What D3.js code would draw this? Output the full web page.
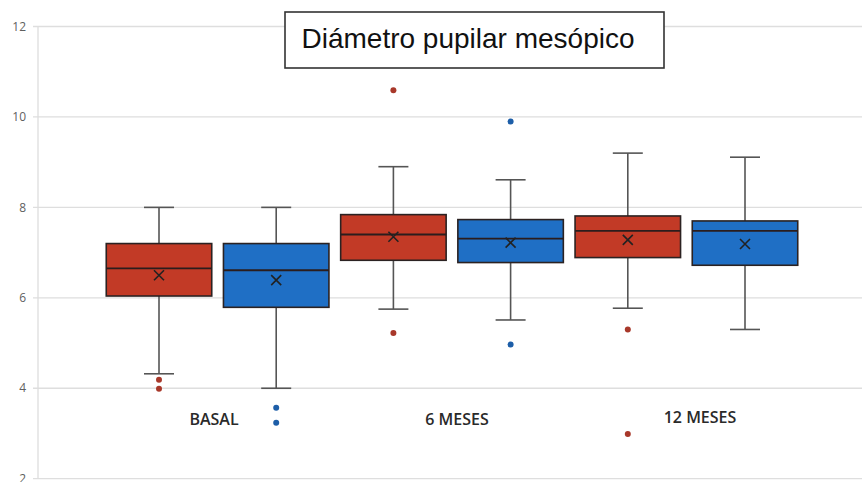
<!DOCTYPE html>
<html>
<head>
<meta charset="utf-8">
<script src="https://cdn.jsdelivr.net/npm/d3@7"></script>
<style>
  html, body { margin: 0; padding: 0; background: #fff; }
  svg { display: block; }
</style>
</head>
<body>
<svg id="chart" width="862" height="482"></svg>
<script>
// ---- data ----
const groups = ["BASAL", "6 MESES", "12 MESES"];
const seriesNames = ["Grupo 1", "Grupo 2"];
const yTicks = [2, 4, 6, 8, 10, 12];
const titleText = "Diámetro pupilar mesópico";

// series 1 (red)
const s1WhiskerHigh = [8.0, 8.9, 9.2];
const s1Q3 = [7.2, 7.84, 7.81];
const s1Median = [6.65, 7.40, 7.48];
const s1Mean = [6.5, 7.35, 7.28];
const s1Q1 = [6.04, 6.83, 6.89];
const s1WhiskerLow = [4.32, 5.75, 5.77];
const s1Outliers = [[4.19, 3.99], [10.59, 5.22], [5.30, 2.99]];

// series 2 (blue)
const s2WhiskerHigh = [8.0, 8.61, 9.11];
const s2Q3 = [7.2, 7.73, 7.70];
const s2Median = [6.61, 7.31, 7.48];
const s2Mean = [6.39, 7.22, 7.19];
const s2Q1 = [5.79, 6.78, 6.72];
const s2WhiskerLow = [4.0, 5.51, 5.30];
const s2Outliers = [[3.57, 3.24], [9.90, 4.97], []];

// ---- build rows ----
const seriesData = [
  { name: seriesNames[0], fill: "#c23a26", dot: "#a8382a",
    hi: s1WhiskerHigh, q3: s1Q3, med: s1Median, mean: s1Mean, q1: s1Q1, lo: s1WhiskerLow, out: s1Outliers },
  { name: seriesNames[1], fill: "#1f6fc5", dot: "#1d5ea8",
    hi: s2WhiskerHigh, q3: s2Q3, med: s2Median, mean: s2Mean, q1: s2Q1, lo: s2WhiskerLow, out: s2Outliers }
];
const boxes = [];
groups.forEach((g, gi) => {
  seriesData.forEach(s => {
    boxes.push({ group: g, series: s.name, fill: s.fill, dot: s.dot,
      hi: s.hi[gi], q3: s.q3[gi], med: s.med[gi], mean: s.mean[gi],
      q1: s.q1[gi], lo: s.lo[gi], out: s.out[gi] });
  });
});

// ---- scales ----
const svg = d3.select("#chart");
const W = 862;
const y = d3.scaleLinear().domain([2, 12]).range([478.7, 26.5]);
const x0 = d3.scaleBand().domain(groups).range([100.4, 803.6]).padding(0);
const x1 = d3.scaleBand().domain(seriesNames).range([0, x0.bandwidth()])
  .paddingInner(0.1).paddingOuter(0.05);
const labelX = d3.scalePoint().domain(groups).range([214, 700]);

// ---- grid + y axis ----
const grid = svg.append("g");
grid.selectAll("line").data(yTicks).join("line")
  .attr("x1", 33).attr("x2", W)
  .attr("y1", d => y(d)).attr("y2", d => y(d))
  .attr("stroke", "#dedede").attr("stroke-width", 1.3);
svg.append("line")
  .attr("x1", 38).attr("x2", 38)
  .attr("y1", y(12)).attr("y2", y(2))
  .attr("stroke", "#dedede").attr("stroke-width", 1.3);
svg.append("g").selectAll("text").data(yTicks).join("text")
  .attr("x", 26).attr("y", d => y(d))
  .attr("dy", "0.35em")
  .attr("text-anchor", "end")
  .attr("font-family", "'Open Sans', 'Liberation Sans', sans-serif")
  .attr("font-size", 12)
  .attr("fill", "#5f5f5f")
  .text(d => d);

// ---- boxes ----
const bx = d => x0(d.group) + x1(d.series);
const bw = x1.bandwidth();
const g = svg.append("g");
const items = g.selectAll("g.box").data(boxes).join("g").attr("class", "box");

// whisker stems
items.append("line")
  .attr("x1", d => bx(d) + bw / 2).attr("x2", d => bx(d) + bw / 2)
  .attr("y1", d => y(d.hi)).attr("y2", d => y(d.q3))
  .attr("stroke", "#555").attr("stroke-width", 1.6);
items.append("line")
  .attr("x1", d => bx(d) + bw / 2).attr("x2", d => bx(d) + bw / 2)
  .attr("y1", d => y(d.q1)).attr("y2", d => y(d.lo))
  .attr("stroke", "#555").attr("stroke-width", 1.6);
// caps
["hi", "lo"].forEach(k => {
  items.append("line")
    .attr("x1", d => bx(d) + bw / 2 - 15).attr("x2", d => bx(d) + bw / 2 + 15)
    .attr("y1", d => y(d[k])).attr("y2", d => y(d[k]))
    .attr("stroke", "#555").attr("stroke-width", 1.6);
});
// box
items.append("rect")
  .attr("x", d => bx(d)).attr("width", bw)
  .attr("y", d => y(d.q3)).attr("height", d => y(d.q1) - y(d.q3))
  .attr("fill", d => d.fill)
  .attr("stroke", "#2b2222").attr("stroke-width", 1.6);
// median
items.append("line")
  .attr("x1", d => bx(d)).attr("x2", d => bx(d) + bw)
  .attr("y1", d => y(d.med)).attr("y2", d => y(d.med))
  .attr("stroke", "#2b1d1d").attr("stroke-width", 1.8);
// mean X
const xs = 5;
items.append("path")
  .attr("d", d => {
    const cx = bx(d) + bw / 2, cy = y(d.mean);
    return `M${cx - xs},${cy - xs}L${cx + xs},${cy + xs}M${cx - xs},${cy + xs}L${cx + xs},${cy - xs}`;
  })
  .attr("stroke", "#222").attr("stroke-width", 1.6).attr("fill", "none");
// outliers
items.each(function (d) {
  d3.select(this).selectAll("circle").data(d.out).join("circle")
    .attr("cx", bx(d) + bw / 2)
    .attr("cy", v => y(v))
    .attr("r", 3)
    .attr("fill", d.dot);
});

// ---- category labels ----
svg.append("g").selectAll("text").data(groups).join("text")
  .attr("x", d => labelX(d))
  .attr("y", (d, i) => [425, 425, 423][i])
  .attr("text-anchor", "middle")
  .attr("font-family", "'Open Sans', sans-serif")
  .attr("font-size", 16)
  .attr("font-weight", 600)
  .attr("fill", "#2a2a2a")
  .text(d => d);

// ---- title box ----
svg.append("rect")
  .attr("x", 285).attr("y", 12).attr("width", 379).attr("height", 56)
  .attr("fill", "#fff").attr("stroke", "#333").attr("stroke-width", 1.6);
svg.append("text")
  .attr("x", 468).attr("y", 48)
  .attr("text-anchor", "middle")
  .attr("font-family", "'Liberation Sans', Arial, sans-serif")
  .attr("font-size", 28)
  .attr("fill", "#111")
  .text(titleText);
</script>
</body>
</html>
